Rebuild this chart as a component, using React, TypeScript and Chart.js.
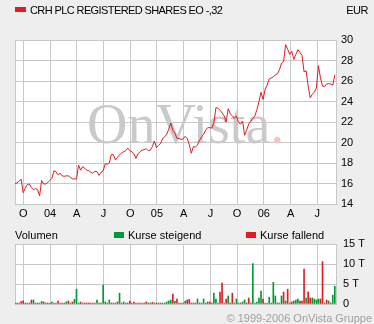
import React, { useEffect, useRef } from 'react';
import { Chart, registerables } from 'chart.js';

Chart.register(...registerables);

const title = 'CRH PLC REGISTERED SHARES EO -,32';
const currency = 'EUR';
const volumeTitle = 'Volumen';
const legendUp = 'Kurse steigend';
const legendDown = 'Kurse fallend';
const copyright = '\u00A9 1999-2006 OnVista Gruppe';

// x axis in months counted from Jan 2003 (9 = Oct 2003 ... 42 = Jul 2006)
const axisStartMonth = 8.07;
const axisEndMonth = 44.21;
const firstWeekMonth = 8.07;
const weekInMonths = 0.2301;
const quarterTickMonths = [9, 12, 15, 18, 21, 24, 27, 30, 33, 36, 39, 42];
const quarterTickLabels = ['O', '04', 'A', 'J', 'O', '05', 'A', 'J', 'O', '06', 'A', 'J'];

const priceMin = 14;
const priceMax = 30;
const priceStep = 2;

const volumeMin = 0;
const volumeMax = 15;
const volumeStep = 5;

// weekly closing prices, EUR
const prices = [
  16.0, 16.05, 16.25, 16.4, 15.1, 15.55, 15.9, 15.95, 15.6, 15.4,
  15.5, 15.4, 14.8, 16.3, 15.95, 15.95, 16.1, 16.3, 16.5, 17.25,
  17.15, 16.85, 17.0, 16.75, 16.7, 16.75, 16.75, 16.6, 16.45, 16.45,
  16.45, 17.8, 17.3, 17.65, 17.5, 17.3, 17.25, 17.1, 17.0, 17.2,
  17.15, 16.8, 17.1, 17.25, 17.9, 17.9, 18.0, 18.85, 18.8, 18.3,
  18.55, 18.8, 19.0, 19.1, 19.2, 19.45, 19.2, 19.1, 18.9, 18.45,
  18.9, 19.1, 19.25, 19.3, 19.4, 19.2, 19.25, 19.6, 20.15, 19.5,
  19.7, 19.9, 20.4, 20.55, 20.8, 21.3, 21.9, 21.2, 20.9, 20.4,
  20.4, 20.3, 20.35, 20.6, 20.4, 19.8, 18.95, 19.6, 19.55, 19.75,
  20.2, 20.55, 20.8, 21.2, 21.45, 21.45, 21.4, 21.9, 23.4, 23.35,
  23.15, 22.9, 22.6, 22.0, 23.3, 22.8, 22.6, 22.35, 22.6, 21.95,
  21.8, 22.1, 20.7, 21.2, 21.8, 22.1, 22.35, 22.6, 23.2, 24.0,
  24.9, 24.2, 25.2, 25.6, 26.2, 26.3, 26.4, 26.6, 26.7, 27.1,
  27.75, 27.9, 29.55, 29.1, 28.6, 28.9, 28.1, 28.6, 29.05, 28.8,
  28.5, 26.9, 27.0, 25.5, 24.35, 24.7, 24.9, 25.3, 27.5, 26.3,
  25.5, 25.45, 25.7, 25.75, 25.7, 25.6, 26.6,
];

// weekly volume, thousands of shares (T)
const volumes = [
  0.25, 0.25, 0.25, 0.6, 0.8, 0.25, 0.25, 0.25, 1.0, 1.0,
  0.25, 0.25, 0.25, 0.65, 0.5, 0.25, 0.25, 0.25, 0.5, 0.25,
  0.25, 0.75, 0.25, 0.25, 0.25, 0.5, 0.75, 0.25, 0.5, 1.15,
  3.7, 0.25, 0.5, 0.25, 0.25, 0.25, 0.25, 0.25, 0.25, 0.25,
  1.0, 0.25, 0.25, 4.7, 0.5, 0.25, 1.0, 0.25, 0.25, 0.25,
  0.5, 2.7, 0.25, 0.5, 0.25, 0.25, 0.75, 0.25, 0.5, 0.25,
  0.25, 0.25, 0.25, 0.25, 0.5, 0.25, 0.25, 0.4, 0.25, 0.25,
  0.25, 0.25, 0.25, 0.25, 0.5, 0.75, 1.0, 2.5, 0.65, 1.25,
  0.25, 0.25, 0.25, 0.75, 1.0, 1.15, 0.25, 0.25, 0.25, 1.25,
  0.25, 0.25, 1.25, 0.25, 0.5, 0.5, 0.25, 2.7, 1.25, 0.25,
  3.0, 5.2, 0.25, 1.25, 2.0, 0.25, 2.7, 0.25, 1.25, 0.25,
  0.25, 0.5, 1.0, 0.25, 1.5, 0.25, 10.1, 0.25, 0.5, 1.5,
  3.2, 1.25, 0.25, 0.25, 1.7, 0.25, 5.4, 2.0, 0.25, 0.25,
  2.0, 3.0, 0.75, 3.7, 0.25, 0.5, 0.75, 1.0, 1.25, 0.75,
  0.75, 8.7, 1.5, 3.0, 1.5, 1.5, 1.25, 1.0, 1.25, 1.25,
  10.6, 0.25, 1.0, 0.75, 0.25, 2.2, 4.45,
];

// u = Kurse steigend, d = Kurse fallend
const volumeDirections = (
  'ddudduuudu' + 'uduududuud' + 'uddduududu' + 'uududddddd' + 'udduuuuddu' +
  'duduuddudu' + 'ddudduudud' + 'uduuuuudud' + 'dduudddduu' + 'duuudduuuu' +
  'ddududduuu' + 'duuddduuuu' + 'uduuuuuudu' + 'udududuuud' + 'ddudduuuud' +
  'dududuu'
).split('');

const RED = '#e31b23';
const GREEN = '#009933';
const GRID = '#c8c8c8';
const BG = '#eeeeee';
const FONT = '"Liberation Sans", Arial, sans-serif';

const weekMonth = (i: number) => firstWeekMonth + i * weekInMonths;

const plotFramePlugin = (watermark: boolean) => ({
  id: 'plotFrame' + (watermark ? 'W' : ''),
  beforeDraw(chart: any) {
    const { ctx, chartArea: a } = chart;
    ctx.save();
    ctx.fillStyle = '#ffffff';
    ctx.fillRect(a.left, a.top, a.right - a.left, a.bottom - a.top);
    ctx.restore();
  },
  beforeDatasetsDraw(chart: any) {
    const { ctx, chartArea: a } = chart;
    ctx.save();
    if (watermark) {
      ctx.font = '56px "Liberation Serif", "Times New Roman", serif';
      ctx.textBaseline = 'alphabetic';
      ctx.textAlign = 'left';
      ctx.fillStyle = '#cacaca';
      const x = a.left + 72;
      const y = a.top + 103;
      ctx.fillText('OnVista', x, y);
      const w = ctx.measureText('OnVista').width;
      ctx.fillStyle = '#f2c6c6';
      ctx.fillText('.', x + w, y);
    }
    ctx.strokeStyle = GRID;
    ctx.lineWidth = 1;
    ctx.strokeRect(a.left + 0.5, a.top + 0.5, a.right - a.left - 1, a.bottom - a.top);
    ctx.restore();
  },
});

const xScale = (showLabels: boolean, height: number) => ({
  type: 'linear' as const,
  min: axisStartMonth,
  max: axisEndMonth,
  offset: false,
  afterBuildTicks: (s: any) => {
    s.ticks = quarterTickMonths.map((v) => ({ value: v }));
  },
  afterFit: (s: any) => {
    s.height = height;
  },
  ticks: {
    display: showLabels,
    autoSkip: false,
    maxRotation: 0,
    minRotation: 0,
    padding: 3,
    color: '#000',
    font: { family: FONT, size: 11 },
    callback: (v: any) => quarterTickLabels[quarterTickMonths.indexOf(Number(v))] ?? '',
  },
  grid: { color: GRID, drawTicks: false, offset: false, lineWidth: 1 },
  border: { display: false },
});

export default function App() {
  const priceRef = useRef<HTMLCanvasElement | null>(null);
  const volRef = useRef<HTMLCanvasElement | null>(null);

  useEffect(() => {
    const priceChart = new Chart(priceRef.current as HTMLCanvasElement, {
      type: 'line',
      data: {
        datasets: [
          {
            data: prices.map((p, i) => ({ x: weekMonth(i), y: p })),
            borderColor: RED,
            borderWidth: 1,
            pointRadius: 0,
            tension: 0,
            fill: false,
          },
        ],
      },
      options: {
        animation: false,
        responsive: false,
        devicePixelRatio: 1,
        layout: { padding: { left: 15, top: 40, right: 0, bottom: 0 } },
        plugins: { legend: { display: false }, tooltip: { enabled: false } },
        scales: {
          x: xScale(true, 18) as any,
          y: {
            position: 'right',
            min: priceMin,
            max: priceMax,
            afterFit: (s: any) => {
              s.width = 37;
            },
            ticks: {
              stepSize: priceStep,
              padding: 4,
              color: '#000',
              font: { family: FONT, size: 11 },
            },
            grid: { color: GRID, drawTicks: false, lineWidth: 1 },
            border: { display: false },
          },
        },
      },
      plugins: [plotFramePlugin(true)],
    });

    const volChart = new Chart(volRef.current as HTMLCanvasElement, {
      type: 'bar',
      data: {
        datasets: [
          {
            data: volumes.map((v, i) => ({ x: weekMonth(i), y: v })) as any,
            backgroundColor: volumeDirections.map((d) => (d === 'u' ? GREEN : RED)),
            barThickness: 1,
            borderWidth: 0,
          },
        ],
      },
      options: {
        animation: false,
        responsive: false,
        devicePixelRatio: 1,
        layout: { padding: { left: 15, top: 22, right: 0, bottom: 0 } },
        plugins: { legend: { display: false }, tooltip: { enabled: false } },
        scales: {
          x: xScale(false, 20) as any,
          y: {
            position: 'right',
            min: volumeMin,
            max: volumeMax,
            afterFit: (s: any) => {
              s.width = 37;
            },
            ticks: {
              stepSize: volumeStep,
              padding: 6,
              color: '#000',
              font: { family: FONT, size: 11 },
              callback: (v: any) => (Number(v) === 0 ? '0' : `${v} T`),
            },
            grid: { color: GRID, drawTicks: false, lineWidth: 1 },
            border: { display: false },
          },
        },
      },
      plugins: [plotFramePlugin(false)],
    });

    return () => {
      priceChart.destroy();
      volChart.destroy();
    };
  }, []);

  const text: React.CSSProperties = {
    position: 'absolute',
    fontFamily: FONT,
    fontSize: 11,
    lineHeight: '12px',
    color: '#000',
    whiteSpace: 'nowrap',
  };

  return (
    <div
      style={{
        position: 'fixed',
        left: 0,
        top: 0,
        width: 374,
        height: 324,
        background: BG,
        overflow: 'hidden',
      }}
    >
      <canvas ref={priceRef} width={374} height={222} style={{ position: 'absolute', left: 0, top: 0 }} />
      <canvas ref={volRef} width={374} height={102} style={{ position: 'absolute', left: 0, top: 222 }} />
      <div style={{ position: 'absolute', left: 15, top: 7, width: 11, height: 5, background: RED }} />
      <div style={{ ...text, left: 30, top: 4, letterSpacing: '-0.6px' }}>{title}</div>
      <div style={{ ...text, right: 6, top: 4, letterSpacing: '-0.5px' }}>{currency}</div>
      <div style={{ ...text, left: 15, top: 229 }}>{volumeTitle}</div>
      <div style={{ position: 'absolute', left: 114, top: 232, width: 10, height: 6, background: GREEN }} />
      <div style={{ ...text, left: 128, top: 229 }}>{legendUp}</div>
      <div style={{ position: 'absolute', left: 246, top: 232, width: 10, height: 6, background: RED }} />
      <div style={{ ...text, left: 260, top: 229 }}>{legendDown}</div>
      <div style={{ ...text, right: 2, top: 312, color: '#a0a0a0' }}>{copyright}</div>
    </div>
  );
}
